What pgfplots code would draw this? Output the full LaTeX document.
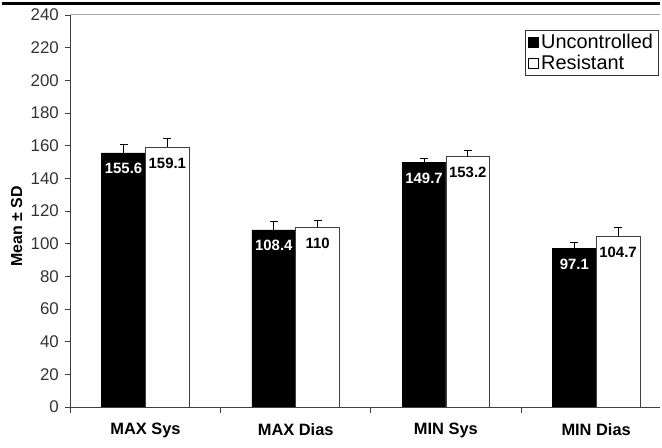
\documentclass[border=0pt]{standalone}
\usepackage{pgfplots}
\pgfplotsset{compat=1.18}
\usepackage{fontspec}
\setmainfont{Liberation Sans}
\pgfplotstableread{
x y e
0 155.6 5.2
1 108.4 5.0
2 149.7 2.5
3 97.1 3.5
}\unc
\pgfplotstableread{
x y e
0 159.1 5.0
1 110.0 4.5
2 153.2 3.8
3 104.7 5.0
}\res
\newcommand\tkfont{\fontsize{17}{18}\selectfont}
\newcommand\lgfont{\fontsize{20}{21}\selectfont}
\begin{document}
\begin{tikzpicture}
\begin{axis}[
  scale only axis, width=593pt, height=394pt,
  xmin=-0.5, xmax=3.427, ymin=0, ymax=240,
  axis x line*=bottom, axis y line*=left,
  axis line style={-, black!75, line width=0.8pt},
  ytick={0,20,...,240},
  yticklabel={\tkfont\pgfmathprintnumber{\tick}},
  xtick={0,1,2,3}, xticklabels={MAX Sys, MAX Dias, MIN Sys, MIN Dias},
  minor xtick={-0.5,0.5,1.5,2.5},
  tick align=outside,
  major x tick style={draw=none},
  minor tick length=6pt, major tick length=5pt,
  tick style={black!75, line width=0.8pt},
  /pgf/number format/assume math mode=true,
  yticklabel style={xshift=-3pt, text=black!80},
  xticklabel style={font=\bfseries\fontsize{16.5}{18}\selectfont, yshift=-8pt},
  ylabel={\bfseries\fontsize{16}{17}\selectfont Mean ± SD},
  ylabel style={at={(axis description cs:-0.091,0.46)}, anchor=center},
  ybar=0pt, bar width=44pt,
  clip=true,
  legend cell align=left,
  legend style={at={(rel axis cs:0.9966,0.962)}, anchor=north east, draw=black!80, line width=0.8pt,
    inner xsep=3pt, inner ysep=2pt, row sep=1pt},
  legend image code/.code={\draw[#1, draw=black, line width=0.8pt] (0pt,-5pt) rectangle (10pt,5pt);},
]
\addplot[fill=black, draw=black, bar shift=-22pt,
  nodes near coords,
  every node near coord/.append style={anchor=north, yshift=-7pt, text=white, font=\bfseries\fontsize{15}{16}\selectfont},
  error bars/.cd, y dir=plus, y explicit,
  error bar style={black, line width=0.8pt}, error mark options={rotate=90, black, line width=0.8pt, mark size=4pt}]
  table[x=x, y=y, y error=e]{\unc};
\addlegendentry{\lgfont Uncontrolled}
\addplot[fill=white, draw=black!75, line width=0.8pt, bar shift=22pt,
  nodes near coords,
  every node near coord/.append style={anchor=north, yshift=-7pt, text=black, font=\bfseries\fontsize{15}{16}\selectfont},
  error bars/.cd, y dir=plus, y explicit,
  error bar style={black, line width=0.8pt}, error mark options={rotate=90, black, line width=0.8pt, mark size=4pt}]
  table[x=x, y=y, y error=e]{\res};
\addlegendentry{\lgfont Resistant}
\draw[black!35, line width=1pt] (rel axis cs:0,1) -- (rel axis cs:1,1);
\end{axis}
\draw[black, line width=3.4pt] (-69pt,405.3pt) -- (593pt,405.3pt);
\path[use as bounding box] (-69pt,-41pt) rectangle (593pt,409pt);
\end{tikzpicture}
\end{document}
